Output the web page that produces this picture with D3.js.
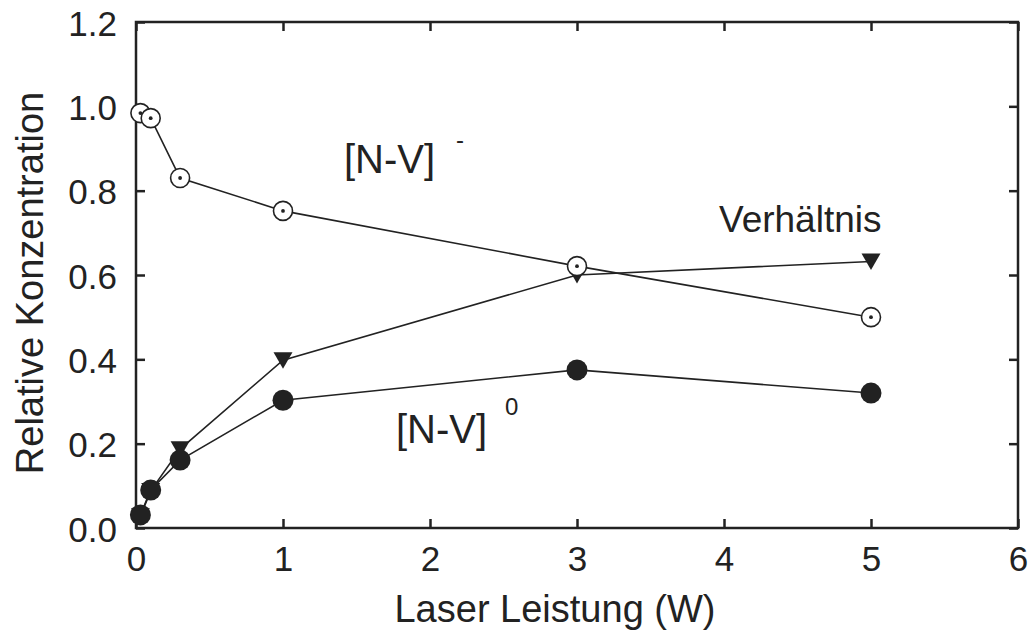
<!DOCTYPE html>
<html>
<head>
<meta charset="utf-8">
<script src="https://cdn.jsdelivr.net/npm/d3@7"></script>
<style>
  body { margin: 0; background: #fff; }
  svg { display: block; }
  text { font-family: "Liberation Sans", Arial, sans-serif; fill: #222; }
</style>
</head>
<body>
<svg id="chart" width="1028" height="630"></svg>
<script>
// ---- data ----
const power = [0.03, 0.1, 0.3, 1, 3, 5];
const nvMinus = [0.984, 0.972, 0.83, 0.752, 0.621, 0.50];
const nvZero = [0.031, 0.09, 0.161, 0.303, 0.375, 0.32];
const ratio = [0.028, 0.088, 0.187, 0.398, 0.60, 0.632];
const xTicks = [0, 1, 2, 3, 4, 5, 6];
const yTicks = [0.0, 0.2, 0.4, 0.6, 0.8, 1.0, 1.2];

const svg = d3.select("#chart");
const mLeft = 136, mRight = 1018, mTop = 22, mBottom = 528;
const ink = "#222";

const x = d3.scaleLinear().domain([0, 6]).range([mLeft, mRight]);
const y = d3.scaleLinear().domain([0, 1.2]).range([mBottom, mTop]);

// frame
svg.append("rect").attr("x", mLeft).attr("y", mTop)
  .attr("width", mRight - mLeft).attr("height", mBottom - mTop)
  .attr("fill", "none").attr("stroke", ink).attr("stroke-width", 2.5);

// axes
const tk = 9;
const gx = svg.append("g").attr("transform", `translate(0,${mBottom})`)
  .call(d3.axisBottom(x).tickValues(xTicks).tickFormat(d3.format("d"))
    .tickSizeInner(-tk).tickSizeOuter(0).tickPadding(18));
const gxt = svg.append("g").attr("transform", `translate(0,${mTop})`)
  .call(d3.axisTop(x).tickValues(xTicks).tickFormat("")
    .tickSizeInner(-tk).tickSizeOuter(0));
const gy = svg.append("g").attr("transform", `translate(${mLeft},0)`)
  .call(d3.axisLeft(y).tickValues(yTicks).tickFormat(d3.format(".1f"))
    .tickSizeInner(-tk).tickSizeOuter(0).tickPadding(19));
const gyr = svg.append("g").attr("transform", `translate(${mRight},0)`)
  .call(d3.axisRight(y).tickValues(yTicks).tickFormat("")
    .tickSizeInner(-tk).tickSizeOuter(0));

[gx, gxt, gy, gyr].forEach(g => {
  g.select(".domain").remove();
  g.selectAll(".tick line").attr("stroke", ink).attr("stroke-width", 2.5);
  g.selectAll("text").style("font-size", "35px").attr("fill", ink)
    .style("font-family", '"Liberation Sans", Arial, sans-serif');
});
gy.selectAll("text").attr("dy", "0.38em");
gx.selectAll("text").attr("dy", "0.72em");

// axis titles
svg.append("text").attr("x", 555).attr("y", 622).attr("text-anchor", "middle")
  .style("font-size", "38px").text("Laser Leistung (W)");
svg.append("text").attr("transform", "translate(43,283) rotate(-90)")
  .attr("text-anchor", "middle").style("font-size", "38px").text("Relative Konzentration");

// lines
const line = vals => d3.line().x((d, i) => x(power[i])).y(d => y(d))(vals);
[ratio, nvZero, nvMinus].forEach(s => {
  svg.append("path").attr("d", line(s)).attr("fill", "none")
    .attr("stroke", ink).attr("stroke-width", 1.6);
});

// markers: triangles (down)
svg.append("g").selectAll("path").data(ratio).join("path")
  .attr("transform", (d, i) => `translate(${x(power[i])},${y(d)})`)
  .attr("d", "M-9.5,-8 L9.5,-8 L0,8.5 Z").attr("fill", ink);

// filled circles
svg.append("g").selectAll("circle").data(nvZero).join("circle")
  .attr("cx", (d, i) => x(power[i])).attr("cy", d => y(d))
  .attr("r", 10.5).attr("fill", ink);

// open circles with dot
const oc = svg.append("g").selectAll("g").data(nvMinus).join("g")
  .attr("transform", (d, i) => `translate(${x(power[i])},${y(d)})`);
oc.append("circle").attr("r", 9.5).attr("fill", "#fff").attr("stroke", ink).attr("stroke-width", 1.6);
oc.append("circle").attr("r", 1.9).attr("fill", ink);

// annotations
svg.append("text").attr("x", 344).attr("y", 173).style("font-size", "40px").text("[N-V]");
svg.append("text").attr("x", 456).attr("y", 148).style("font-size", "24px").text("-");
svg.append("text").attr("x", 396).attr("y", 443).style("font-size", "40px").text("[N-V]");
svg.append("text").attr("x", 505).attr("y", 415).style("font-size", "24px").text("0");
svg.append("text").attr("x", 719).attr("y", 232).style("font-size", "37px").text("Verhältnis");
</script>
</body>
</html>
